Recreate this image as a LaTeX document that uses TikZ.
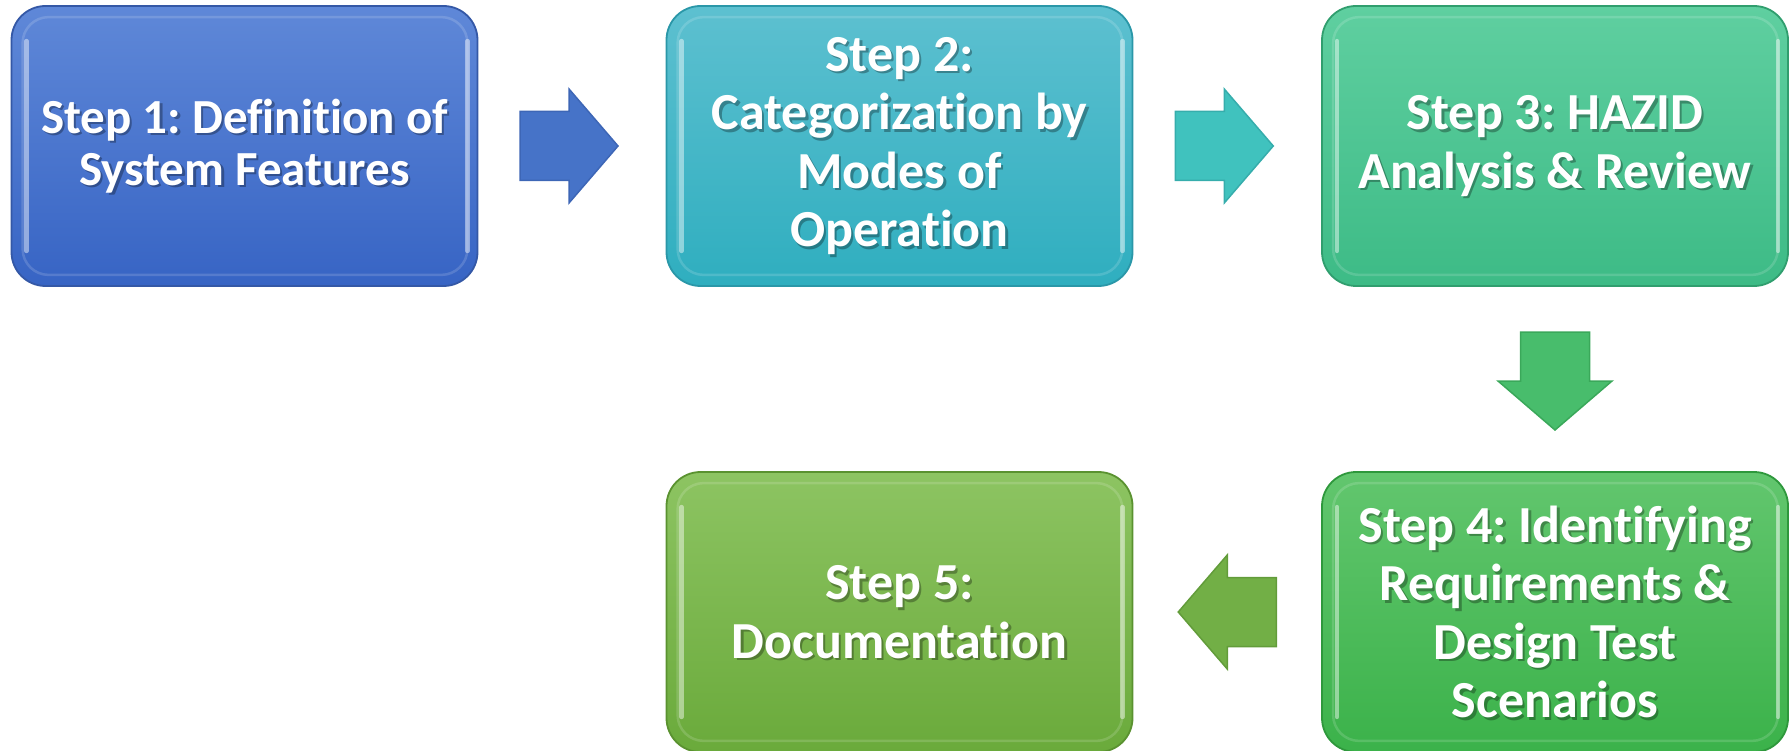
\documentclass[tikz,border=0pt]{standalone}
\usepackage{fontspec}
\setmainfont[Ligatures={NoCommon}]{Carlito}
\usetikzlibrary{calc}
\frenchspacing

% colour sets: top of gradient, bottom of gradient, rim
\definecolor{oneTop}{HTML}{5F88D8}\definecolor{oneBot}{HTML}{3764C4}\definecolor{oneRim}{HTML}{3458A6}
\definecolor{twoTop}{HTML}{5DC0D0}\definecolor{twoBot}{HTML}{2FAEBF}\definecolor{twoRim}{HTML}{2A97A8}
\definecolor{thrTop}{HTML}{5FCFA0}\definecolor{thrBot}{HTML}{3DBB86}\definecolor{thrRim}{HTML}{309E6E}
\definecolor{fouTop}{HTML}{62C66E}\definecolor{fouBot}{HTML}{3BB24A}\definecolor{fouRim}{HTML}{2E983C}
\definecolor{fivTop}{HTML}{8DC462}\definecolor{fivBot}{HTML}{6AAA3B}\definecolor{fivRim}{HTML}{5A9230}
% block arrow fills
\definecolor{arrOne}{HTML}{4673C8}\definecolor{arrOneRim}{HTML}{3D66B6}
\definecolor{arrTwo}{HTML}{40C2BE}\definecolor{arrTwoRim}{HTML}{36ADAC}
\definecolor{arrThr}{HTML}{48BD6C}\definecolor{arrThrRim}{HTML}{3AA85A}
\definecolor{arrFou}{HTML}{72AF46}\definecolor{arrFouRim}{HTML}{629C3A}

\tikzset{
  stepbox/.style n args={3}{rectangle, rounded corners=34pt,
    minimum width=466pt, minimum height=280pt, inner sep=0pt,
    top color=#1, bottom color=#2, draw=#3, line width=1.8pt},
  rimline/.style={draw=white, draw opacity=0.15, line width=2.5pt, rounded corners=26pt},
  gleam/.style={draw=white, draw opacity=0.45, line width=4.5pt, line cap=round},
  bigtext/.style={font=\bfseries\fontsize{52}{58.5}\selectfont},
  smalltext/.style={font=\bfseries\fontsize{49}{52}\selectfont},
  steptext/.style={text=white, align=center},
  shadowtext/.style={text=black, text opacity=0.3, align=center},
  blockarrow/.pic={\path[pic actions] (-49,-34.5) -- (0,-34.5) -- (0,-57) -- (49,0)
     -- (0,57) -- (0,34.5) -- (-49,34.5) -- cycle;},
}

% inner glossy rim of a step box, with brighter gleams down both sides
% (the picture has y pointing down, so a positive y shift moves downwards)
\newcommand\bevelrim[1]{%
  \draw[rimline] ([shift={(12,12)}]#1.north west) rectangle ([shift={(-11,-12)}]#1.south east);
  \draw[gleam] ([shift={(16,36)}]#1.north west) -- ([shift={(16,-36)}]#1.south west);
  \draw[gleam] ([shift={(-11,36)}]#1.north east) -- ([shift={(-11,-36)}]#1.south east);}
% white caption with a soft drop shadow
\newcommand\stepcaption[3]{%
  \node[shadowtext,#2] (#1sh) at ([shift={(2.5,2.5)}]#1.center) {#3};
  \node[steptext,#2] (#1txt) at (#1.center) {#3};}

\begin{document}
\begin{tikzpicture}[x=1pt,y=-1pt]
\useasboundingbox (0,0) rectangle (1791,751);

% step boxes
\node[stepbox={oneTop}{oneBot}{oneRim}] (s1) at (244.5,146) {};
\node[stepbox={twoTop}{twoBot}{twoRim}] (s2) at (899.5,146) {};
\node[stepbox={thrTop}{thrBot}{thrRim}] (s3) at (1555,146) {};
\node[stepbox={fouTop}{fouBot}{fouRim}] (s4) at (1555,612) {};
\node[stepbox={fivTop}{fivBot}{fivRim}] (s5) at (899.5,612) {};

\bevelrim{s1}\bevelrim{s2}\bevelrim{s3}\bevelrim{s4}\bevelrim{s5}

\stepcaption{s1}{smalltext}{Step 1: Definition of\\System Features}
\stepcaption{s2}{bigtext}{Step 2:\\Categorization by\\Modes of\\Operation}
\stepcaption{s3}{bigtext}{Step 3: HAZID\\Analysis \& Review}
\stepcaption{s4}{bigtext}{Step 4: Identifying\\Requirements \&\\Design Test\\Scenarios}
\stepcaption{s5}{bigtext}{Step 5:\\Documentation}

% block arrows between the steps
\coordinate (a1) at ($(s1.east)!0.5!(s2.west)$);
\coordinate (a2) at ($(s2.east)!0.5!(s3.west)$);
\coordinate (a3) at ($(s3.south)!0.5!(s4.north)$);
\coordinate (a4) at ($(s4.west)!0.5!(s5.east)$);
\pic[fill=arrOne, draw=arrOneRim, line width=1.5pt] at ([xshift=-3]a1) {blockarrow};
\pic[fill=arrTwo, draw=arrTwoRim, line width=1.5pt] at ([xshift=-3]a2) {blockarrow};
\pic[fill=arrThr, draw=arrThrRim, line width=1.5pt, rotate=-90] at ([yshift=-2]a3) {blockarrow};
\pic[fill=arrFou, draw=arrFouRim, line width=1.5pt, rotate=180] at (a4) {blockarrow};
\end{tikzpicture}
\end{document}
